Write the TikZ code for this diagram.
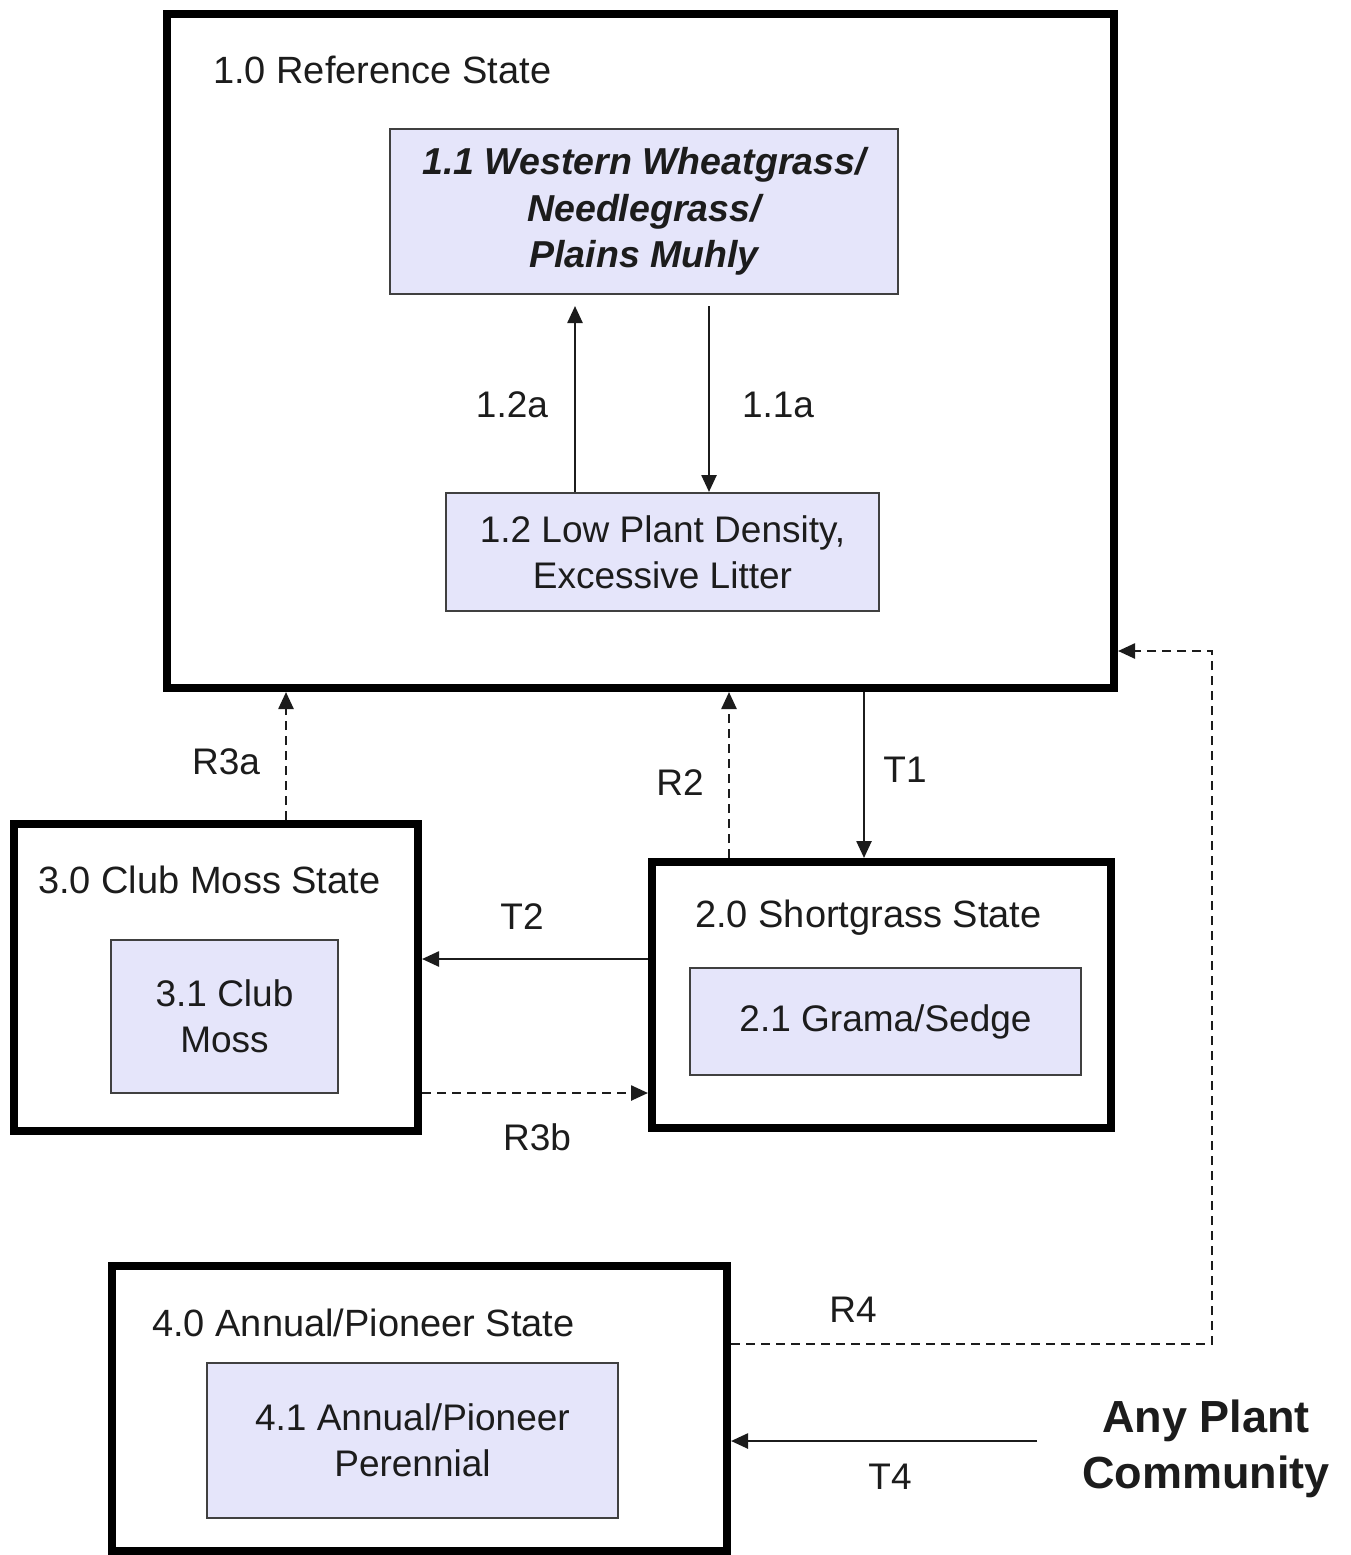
\documentclass[tikz,border=0pt]{standalone}
\usepackage{fontspec}
\setmainfont{Liberation Sans}
\usetikzlibrary{arrows.meta}
\definecolor{lav}{RGB}{229,229,250}
\definecolor{txt}{RGB}{28,28,28}
\begin{document}
\begin{tikzpicture}[x=1pt,y=-1pt,
  statebox/.style={draw=black, line width=8pt, inner sep=0pt},
  commbox/.style={draw=black!75, line width=2pt, fill=lav, align=center, inner sep=0pt,
    text=txt, font=\fontsize{37}{46}\selectfont},
  titletext/.style={anchor=west, inner sep=0pt, text=txt, font=\fontsize{38}{46}\selectfont},
  lbl/.style={inner sep=0pt, text=txt, font=\fontsize{37}{46}\selectfont},
  arr/.style={line width=2.5pt, draw=txt, -{Triangle[length=17pt,width=15pt]}},
  darr/.style={arr, dash pattern=on 9pt off 6pt}]
\useasboundingbox (0,0) rectangle (1351,1555);
% state boxes
\node[statebox, minimum width=947pt, minimum height=674pt] (n10) at (640.5,351) {};
\node[statebox, minimum width=404pt, minimum height=307pt] (n30) at (216,977.5) {};
\node[statebox, minimum width=459pt, minimum height=266pt] (n20) at (881.5,995) {};
\node[statebox, minimum width=615pt, minimum height=285pt] (n40) at (419.5,1408.5) {};
% titles
\node[titletext] (t10) at (213,70) {1.0 Reference State};
\node[titletext] (t30) at (38,880) {3.0 Club Moss State};
\node[titletext] (t20) at (695,918) {2.0 Shortgrass State};
\node[titletext] (t40) at (152,1323) {4.0 Annual/Pioneer State};
% community boxes
\node[commbox, minimum width=508pt, minimum height=165pt, font=\fontsize{37.5}{46.5}\selectfont\bfseries\itshape] (n11) at (644,211.5)
  {1.1 Western Wheatgrass/\\Needlegrass/\\Plains Muhly};
\node[commbox, minimum width=433pt, minimum height=118pt] (n12) at (662.5,552)
  {1.2 Low Plant Density,\\Excessive Litter};
\node[commbox, minimum width=227pt, minimum height=153pt] (n31) at (224.5,1016.5)
  {3.1 Club\\Moss};
\node[commbox, minimum width=391pt, minimum height=107pt] (n21) at (885.5,1021.5)
  {2.1 Grama/Sedge};
\node[commbox, minimum width=411pt, minimum height=155pt] (n41) at (412.5,1440.5)
  {4.1 Annual/Pioneer\\Perennial};
\node[align=center, inner sep=0pt, text=txt, font=\fontsize{45}{56}\selectfont\bfseries] (apc) at (1206,1449)
  {Any Plant\\Community};
% helper coordinates
\coordinate (x575) at (575,0);
\coordinate (x709) at (709,0);
\coordinate (x286) at (286,0);
\coordinate (x729) at (729,0);
\coordinate (x864) at (864,0);
\coordinate (y959) at (0,959);
\coordinate (y1093) at (0,1093);
\coordinate (r4a) at (1212,1344);
\coordinate (r4b) at (1212,651);
\coordinate (t4s) at (1037,1441);
% connectors
\draw[arr, shorten >=11pt] (n12.north -| x575) -- (n11.south -| x575);
\draw[arr, shorten <=11pt] (n11.south -| x709) -- (n12.north -| x709);
\draw[darr] (n30.north -| x286) -- (n10.south -| x286);
\draw[darr] (n20.north -| x729) -- (n10.south -| x729);
\draw[arr] (n10.south -| x864) -- (n20.north -| x864);
\draw[arr] (n20.west |- y959) -- (n30.east |- y959);
\draw[darr] (n30.east |- y1093) -- (n20.west |- y1093);
\draw[darr] (n40.east |- r4a) -- (r4a) -- (r4b) -- (n10.east |- r4b);
\draw[arr] (t4s) -- (n40.east |- t4s);
% labels
\node[lbl] (l12a) at (512,405) {1.2a};
\node[lbl] (l11a) at (778,405) {1.1a};
\node[lbl] (lr3a) at (226,762) {R3a};
\node[lbl] (lr2) at (680,783) {R2};
\node[lbl] (lt1) at (905,770) {T1};
\node[lbl] (lt2) at (522,917) {T2};
\node[lbl] (lr3b) at (537,1137) {R3b};
\node[lbl] (lr4) at (853,1310) {R4};
\node[lbl] (lt4) at (890,1477) {T4};
\end{tikzpicture}
\end{document}
